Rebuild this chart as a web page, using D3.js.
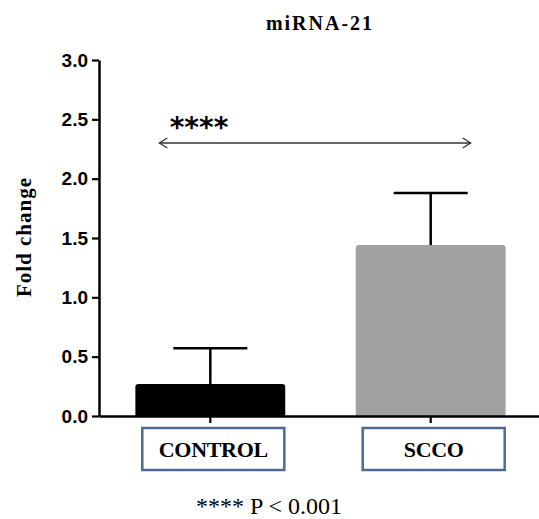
<!DOCTYPE html>
<html lang="en">
    <head>
        <meta charset="utf-8">
        <title>miRNA-21</title>
        <style>
            body{ margin: 0; background: #fff; }
        </style>
        <script type="text/javascript" src="https://d3js.org/d3.v7.min.js"></script>
    </head>
    <body>
        <div class="plot"></div>
        <script type="text/javascript">
            var groups = ["CONTROL", "SCCO"];
            var means = [0.27, 1.44];
            var errors = [0.30, 0.44];
            var colors = ["#000000", "#a1a1a3"];
            var y_ticks = [0, 0.5, 1.0, 1.5, 2.0, 2.5, 3.0];

            const width = 539;
            const height = 519;
            var serif = "'Liberation Serif', 'Times New Roman', serif";
            var sans = "'Liberation Sans', Arial, sans-serif";

            const svg = d3.select('.plot')
                .append('svg')
                .attr('width', width)
                .attr('height', height);

            var y = d3.scaleLinear().domain([0, 3]).range([416, 60]);
            var x = d3.scaleBand().domain(groups).range([99, 542])
                .paddingInner(0.32).paddingOuter(0.165);

            // title
            svg.append("text")
                .attr("x", 320).attr("y", 30)
                .attr("text-anchor", "middle")
                .attr("font-family", serif)
                .attr("font-weight", "bold")
                .attr("font-size", 20)
                .attr("letter-spacing", 2)
                .text("miRNA-21");

            // y axis label
            svg.append("text")
                .attr("transform", "translate(31,237) rotate(-90)")
                .attr("text-anchor", "middle")
                .attr("font-family", serif)
                .attr("font-weight", "bold")
                .attr("font-size", 21)
                .attr("letter-spacing", 1)
                .text("Fold change");

            // bars
            svg.selectAll(".bar")
                .data(groups)
                .enter()
                .append("path")
                .attr("class", "bar")
                .attr("fill", (d,i) => colors[i])
                .attr("d", (d,i) => {
                    let x0 = x(d), x1 = x(d) + x.bandwidth();
                    let y0 = y(0), y1 = y(means[i]), r = 3;
                    return "M" + x0 + "," + y0 + "V" + (y1 + r) + "Q" + x0 + "," + y1 + " " + (x0 + r) + "," + y1
                        + "H" + (x1 - r) + "Q" + x1 + "," + y1 + " " + x1 + "," + (y1 + r) + "V" + y0 + "Z";
                });

            // error bars
            var err = svg.selectAll(".err")
                .data(groups)
                .enter()
                .append("g")
                .attr("class", "err")
                .attr("stroke", "#000")
                .attr("stroke-width", 2.5);
            err.append("line")
                .attr("x1", d => x(d) + x.bandwidth() / 2)
                .attr("x2", d => x(d) + x.bandwidth() / 2)
                .attr("y1", (d,i) => y(means[i]))
                .attr("y2", (d,i) => y(means[i] + errors[i]));
            err.append("line")
                .attr("x1", d => x(d) + x.bandwidth() / 2 - 37)
                .attr("x2", d => x(d) + x.bandwidth() / 2 + 37)
                .attr("y1", (d,i) => y(means[i] + errors[i]))
                .attr("y2", (d,i) => y(means[i] + errors[i]));

            // y axis
            var yAxis = svg.append("g")
                .attr("transform", "translate(99,0)")
                .call(d3.axisLeft(y).tickValues(y_ticks).tickFormat(d3.format(".1f")).tickSize(7).tickSizeOuter(0));
            yAxis.select(".domain").attr("stroke-width", 2.5);
            yAxis.selectAll(".tick line").attr("stroke-width", 2.2);
            yAxis.selectAll(".tick text")
                .attr("font-family", sans)
                .attr("font-weight", "bold")
                .attr("font-size", 19)
                .attr("x", -11)
                .attr("fill", "#000");

            // x axis
            var xAxis = svg.append("g")
                .attr("transform", "translate(0,416)")
                .call(d3.axisBottom(x).tickSize(7).tickSizeOuter(0));
            xAxis.select(".domain").attr("stroke-width", 2.5);
            xAxis.selectAll(".tick line").attr("stroke-width", 2.2);
            xAxis.selectAll(".tick text").remove();

            // boxed category labels
            var labels = svg.selectAll(".lbl")
                .data(groups)
                .enter()
                .append("g")
                .attr("class", "lbl")
                .attr("transform", d => "translate(" + (x(d) + x.bandwidth() / 2 + 3) + ",0)");
            labels.append("rect")
                .attr("x", -71).attr("y", 428)
                .attr("width", 142).attr("height", 42)
                .attr("fill", "#fff")
                .attr("stroke", "#4f6a90")
                .attr("stroke-width", 2.5);
            labels.append("text")
                .attr("y", 457)
                .attr("text-anchor", "middle")
                .attr("font-family", serif)
                .attr("font-weight", "bold")
                .attr("font-size", 22)
                .attr("letter-spacing", -0.3)
                .text(d => d);

            // significance arrow
            var ax0 = x(groups[0]) + 24, ax1 = x(groups[1]) + x.bandwidth() / 2 + 40, ay = 143;
            svg.append("line")
                .attr("x1", ax0).attr("x2", ax1)
                .attr("y1", ay).attr("y2", ay)
                .attr("stroke", "#333").attr("stroke-width", 1.3);
            svg.append("path")
                .attr("d", "M" + (ax0 + 8) + "," + (ay - 5) + "L" + ax0 + "," + ay + "L" + (ax0 + 8) + "," + (ay + 5)
                    + "M" + (ax1 - 8) + "," + (ay - 5) + "L" + ax1 + "," + ay + "L" + (ax1 - 8) + "," + (ay + 5))
                .attr("fill", "none")
                .attr("stroke", "#333").attr("stroke-width", 1.3);
            svg.append("text")
                .attr("x", 199).attr("y", 137)
                .attr("text-anchor", "middle")
                .attr("font-family", "'DejaVu Sans', sans-serif")
                .attr("font-weight", "bold")
                .attr("font-size", 28)
                .text("****");

            // footnote
            svg.append("text")
                .attr("x", 269).attr("y", 514)
                .attr("text-anchor", "middle")
                .attr("font-family", serif)
                .attr("font-size", 24)
                .text("**** P < 0.001");
        </script>
    </body>
</html>
